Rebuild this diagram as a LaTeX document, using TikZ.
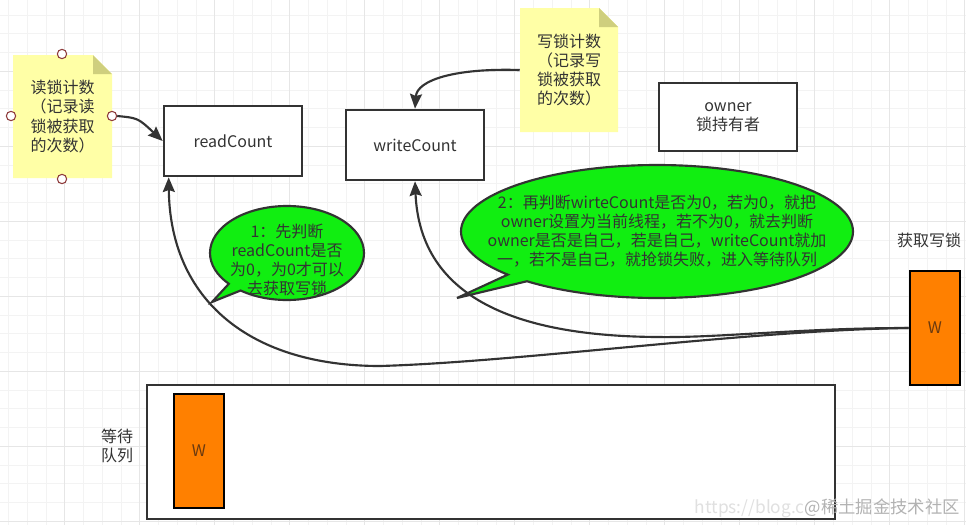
\documentclass[tikz,border=0pt]{standalone}
\usepackage{fontspec}
\setmainfont{Noto Sans CJK SC}
\usetikzlibrary{shapes.callouts,shapes.geometric,arrows.meta,calc}
\definecolor{ink}{HTML}{333333}
\definecolor{notey}{HTML}{FFFFA6}
\definecolor{foldc}{HTML}{CFCF7E}
\definecolor{bubg}{HTML}{11EE11}
\definecolor{wor}{HTML}{FF8000}
\definecolor{wtxt}{HTML}{6A3A10}
\definecolor{hdl}{HTML}{8E3B3B}
\definecolor{gmin}{HTML}{F3F3F3}
\definecolor{gmaj}{HTML}{E6E6E6}
\begin{document}
\begin{tikzpicture}[x=0.75pt,y=-0.75pt,
  txt/.style={text=ink,font=\fontsize{12}{14.3}\selectfont,align=center,inner sep=0pt},
  notetxt/.style={txt,align=left},
  boxnode/.style={txt,draw=ink,line width=2pt,fill=white,minimum width=103.5pt,minimum height=52.5pt},
  wnode/.style={txt,text=wtxt,draw=black,line width=2.2pt,fill=wor,minimum width=37.5pt,minimum height=85.5pt},
  handle/.style={circle,draw=hdl,fill=white,line width=0.8pt,minimum size=7pt,inner sep=0pt},
  bubble/.style={ellipse callout,draw=ink,line width=1.6pt,fill=bubg,inner sep=0pt,callout pointer arc=12},
  conn/.style={draw=ink,line width=1.6pt,-{Stealth[length=11pt,width=9pt,inset=1.5pt]}},
  gridminor/.style={draw=gmin,line width=0.6pt},
  gridmajor/.style={draw=gmaj,line width=0.6pt}
]
\useasboundingbox (0,0) rectangle (966,525);
\fill[white] (0,0) rectangle (966,525);
% grid
\foreach \i in {0,...,51} {\draw[gridminor] ({8.5+18.75*\i},0) -- ({8.5+18.75*\i},525);}
\foreach \i in {0,...,28} {\draw[gridminor] (0,{15+18.75*\i}) -- (966,{15+18.75*\i});}
\foreach \i in {0,...,12} {\draw[gridmajor] ({64.75+75*\i},0) -- ({64.75+75*\i},525);}
\foreach \i in {0,...,7} {\draw[gridmajor] (0,{71.25+75*\i}) -- (966,{71.25+75*\i});}

% note 1
\fill[notey] (13,55) -- (93,55) -- (112,74) -- (112,178) -- (13,178) -- cycle;
\fill[foldc] (93,55) -- (112,74) -- (93,74) -- cycle;
\node[notetxt,minimum width=74.25pt,minimum height=92.25pt] (n1) at (62.5,116.5) {读锁计数\\（记录读\\锁被获取\\的次数）};
\node[handle] (h1t) at (62,54) {};
\node[handle] (h1l) at (11,116) {};
\node[handle] (h1r) at (112,116) {};
\node[handle] (h1b) at (62,179) {};

% note 2
\fill[notey] (520,8) -- (599,8) -- (618,27) -- (618,132) -- (520,132) -- cycle;
\fill[foldc] (599,8) -- (618,27) -- (599,27) -- cycle;
\node[notetxt,minimum width=73.5pt,minimum height=93pt] (n2) at (569,70) {写锁计数\\（记录写\\锁被获取\\的次数）};

% boxes
\node[boxnode] (rc) at (233,141) {readCount};
\node[boxnode] (wc) at (415,145) {writeCount};
\node[boxnode,minimum height=51pt] (ow) at (728,117) {owner\\锁持有者};

% bubbles
\coordinate (tip1) at (212,302);
\coordinate (tip2) at (457,298);
\node[bubble,minimum width=115.5pt,minimum height=70.5pt,callout absolute pointer=(tip1)] (b1) at (287,253) {};
\node[txt] (b1t) at (287,260) {1：先判断\\readCount是否\\为0，为0才可以\\去获取写锁};
\node[bubble,minimum width=294pt,minimum height=99.75pt,callout pointer arc=8,callout absolute pointer=(tip2)] (b2) at (657,231.5) {};
\node[txt] (b2t) at (657,231.5) {2：再判断wirteCount是否为0，若为0，就把\\owner设置为当前线程，若不为0，就去判断\\owner是否是自己，若是自己，writeCount就加\\一，若不是自己，就抢锁失败，进入等待队列};

% right W
\node[txt] (lbl) at (929,240) {获取写锁};
\node[wnode] (wr) at (935,328) {W};

% wait queue
\node[draw=ink,line width=2.2pt,fill=white,minimum width=516pt,minimum height=100.5pt] (q) at (491,452) {};
\node[wnode] (wq) at (199,451) {W};
\node[txt] (ql) at (117,446) {等待\\队列};

% connectors
\draw[conn] (h1r.east) .. controls (138,118) .. (rc.west);
\draw[conn] (n2.west) .. controls (455,68) and (417,80) .. (wc.north);
\draw[conn] (wr.west) .. controls (800,328) and (720,338) .. (657,337) .. controls (520,336) and (420,300) .. (wc.south);
\draw[conn] (wr.west) .. controls (750,330) and (520,362) .. (380,366) .. controls (250,366) and (170,300) .. ($(rc.south west)+(6,0)$);

% watermark
\node[anchor=east,inner sep=0pt,font=\fontsize{13}{15}\selectfont] (wm) at (960,508) {\textcolor{black!12}{https://blog.c}\textcolor{black!30}{@稀土掘金技术社区}};
\end{tikzpicture}
\end{document}
